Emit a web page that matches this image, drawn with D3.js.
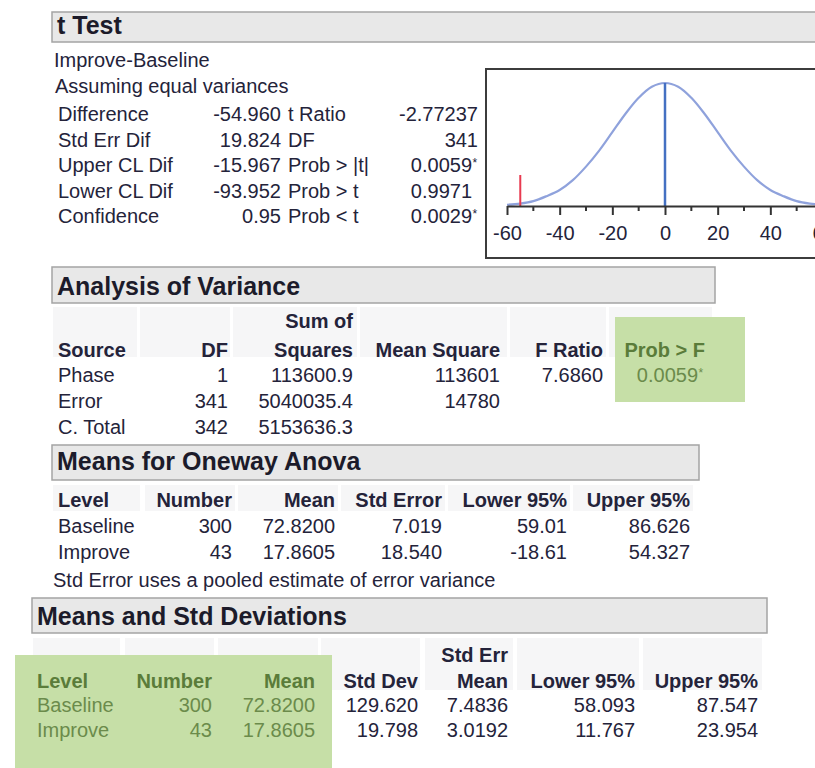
<!DOCTYPE html>
<html>
<head>
<meta charset="utf-8">
<script src="https://d3js.org/d3.v7.min.js"></script>
<style>
  body { margin: 0; background: #fff; }
  svg text { font-family: "Liberation Sans", Arial, sans-serif; }
</style>
</head>
<body>
<svg id="viz" width="815" height="768"></svg>

<script>
// ---------- data ----------
var tTestTitle = "t Test";
var tTestComparison = "Improve-Baseline";
var tTestNote = "Assuming equal variances";
var tTestLabels = ["Difference", "Std Err Dif", "Upper CL Dif", "Lower CL Dif", "Confidence"];
var tTestValues = ["-54.960", "19.824", "-15.967", "-93.952", "0.95"];
var tStatLabels = ["t Ratio", "DF", "Prob > |t|", "Prob > t", "Prob < t"];
var tStatValues = ["-2.77237", "341", "0.0059*", "0.9971", "0.0029*"];

// little t-distribution plot
var tDiff = -54.960;
var axisTicks = [-60, -40, -20, 0, 20, 40, 60];
var minorTicks = [-50, -30, -10, 10, 30, 50];
var curveX      = [-60, -55, -50, -45, -40, -35, -30, -25, -20, -15, -10, -5, 0, 5, 10, 15, 20, 25, 30, 35, 40, 45, 50, 55, 60];
var curveHeight = [0.01, 0.02, 0.04, 0.08, 0.13, 0.21, 0.32, 0.45, 0.60, 0.75, 0.88, 0.97, 1.00, 0.97, 0.88, 0.75, 0.60, 0.45, 0.32, 0.21, 0.13, 0.08, 0.04, 0.02, 0.01];

var anovaTitle = "Analysis of Variance";
var anovaHeaderTop = ["", "", "Sum of", "", "", ""];
var anovaHeader = ["Source", "DF", "Squares", "Mean Square", "F Ratio", "Prob > F"];
var anovaRows = [
  ["Phase", "1", "113600.9", "113601", "7.6860", "0.0059*"],
  ["Error", "341", "5040035.4", "14780", "", ""],
  ["C. Total", "342", "5153636.3", "", "", ""]
];

var onewayTitle = "Means for Oneway Anova";
var onewayHeader = ["Level", "Number", "Mean", "Std Error", "Lower 95%", "Upper 95%"];
var onewayRows = [
  ["Baseline", "300", "72.8200", "7.019", "59.01", "86.626"],
  ["Improve", "43", "17.8605", "18.540", "-18.61", "54.327"]
];
var onewayNote = "Std Error uses a pooled estimate of error variance";

var sdTitle = "Means and Std Deviations";
var sdHeaderTop = ["", "", "", "", "Std Err", "", ""];
var sdHeader = ["Level", "Number", "Mean", "Std Dev", "Mean", "Lower 95%", "Upper 95%"];
var sdRows = [
  ["Baseline", "300", "72.8200", "129.620", "7.4836", "58.093", "87.547"],
  ["Improve", "43", "17.8605", "19.798", "3.0192", "11.767", "23.954"]
];

// ---------- drawing ----------
var svg = d3.select("#viz");
var ink = "#24233a";
var greenHead = "#5a7c3a";
var greenText = "#6b8b4b";
var fs = 20;

svg.append("rect").attr("width", 815).attr("height", 768).attr("fill", "#fff");

function titleBar(x, y, w, h, title, baseline) {
  svg.append("rect")
    .attr("x", x).attr("y", y).attr("width", w).attr("height", h)
    .attr("fill", "#e8e8e8").attr("stroke", "#a4a4a4").attr("stroke-width", 1.5);
  svg.append("text")
    .attr("x", x + 5).attr("y", baseline)
    .attr("font-size", 25).attr("font-weight", "bold").attr("fill", "#1c1b2a")
    .text(title);
}

// right aligned number, star drawn small and raised after the digits
function num(g, str, x, y, color, bold) {
  if (!str) return;
  var star = str.charAt(str.length - 1) === "*";
  g.append("text")
    .attr("x", x).attr("y", y).attr("text-anchor", "end")
    .attr("font-size", fs).attr("fill", color)
    .attr("font-weight", bold ? "bold" : "normal")
    .text(star ? str.slice(0, -1) : str);
  if (star) {
    g.append("text")
      .attr("x", x + 0.5).attr("y", y - 5)
      .attr("font-size", 12).attr("fill", color)
      .text("*");
  }
}

function table(spec) {
  var g = svg.append("g");
  g.selectAll("rect.hc").data(spec.cells).enter().append("rect")
    .attr("class", "hc")
    .attr("x", function(d) { return d[0]; })
    .attr("y", spec.cellY[0])
    .attr("width", function(d) { return d[1] - d[0]; })
    .attr("height", spec.cellY[1] - spec.cellY[0])
    .attr("fill", "#f6f6f7");
  (spec.greens || []).forEach(function(b) {
    g.append("rect").attr("x", b[0]).attr("y", b[1]).attr("width", b[2] - b[0]).attr("height", b[3] - b[1])
      .attr("fill", "#c6dfa7");
  });
  var isGreen = function(i) { return (spec.greenCols || []).indexOf(i) >= 0; };
  function put(str, i, y, bold, isHead) {
    if (!str) return;
    var col = isGreen(i) ? (bold ? greenHead : greenText) : ink;
    if (i === 0) {
      g.append("text").attr("x", spec.colX[0]).attr("y", y)
        .attr("font-size", fs).attr("font-weight", bold ? "bold" : "normal")
        .attr("fill", col).text(str);
    } else {
      var x = (isHead && spec.headX) ? spec.headX[i] : spec.colX[i];
      num(g, str, x, y, col, bold);
    }
  }
  if (spec.headTop) spec.headTop.forEach(function(s, i) { put(s, i, spec.headTopY, true, true); });
  spec.head.forEach(function(s, i) { put(s, i, spec.headY, true, true); });
  spec.rows.forEach(function(r, j) {
    r.forEach(function(s, i) { put(s, i, spec.rowY[j], false, false); });
  });
}

// ---- t Test block ----
titleBar(52, 12, 790, 30, tTestTitle, 34);
svg.append("text").attr("x", 54).attr("y", 67).attr("font-size", fs).attr("fill", ink).text(tTestComparison);
svg.append("text").attr("x", 55).attr("y", 93).attr("font-size", fs).attr("fill", ink).text(tTestNote);

var tRowY = d3.range(tTestLabels.length).map(function(i) { return 121 + i * 25.6; });
var tg = svg.append("g");
tg.selectAll("text.lab").data(tTestLabels).enter().append("text")
  .attr("x", 58).attr("y", function(d, i) { return tRowY[i]; })
  .attr("font-size", fs).attr("fill", ink).text(function(d) { return d; });
tTestValues.forEach(function(v, i) { num(tg, v, 281, tRowY[i], ink); });
tg.selectAll("text.slab").data(tStatLabels).enter().append("text")
  .attr("x", 288).attr("y", function(d, i) { return tRowY[i]; })
  .attr("font-size", fs).attr("fill", ink).text(function(d) { return d; });
tStatValues.forEach(function(v, i) {
  var isProb = tStatLabels[i].indexOf("Prob") === 0;
  num(tg, v, isProb ? 472 : 478, tRowY[i], ink);
});

// ---- plot ----
var plot = svg.append("g");
plot.append("rect").attr("x", 486).attr("y", 69).attr("width", 360).attr("height", 189)
  .attr("fill", "#fff").attr("stroke", "#3c3c3c").attr("stroke-width", 2);

var x = d3.scaleLinear().domain([-60, 60]).range([507, 823]);
var y = d3.scaleLinear().domain([0, 1]).range([206, 83]);

var line = d3.line()
  .x(function(d, i) { return x(curveX[i]); })
  .y(function(d) { return y(d); })
  .curve(d3.curveCatmullRom);
plot.append("path").datum(curveHeight)
  .attr("d", line).attr("fill", "none")
  .attr("stroke", "#8fa2dc").attr("stroke-width", 2.2);

plot.append("line")
  .attr("x1", x(0)).attr("x2", x(0)).attr("y1", y(0)).attr("y2", y(1))
  .attr("stroke", "#4470c2").attr("stroke-width", 2.5);
plot.append("line")
  .attr("x1", x(tDiff)).attr("x2", x(tDiff)).attr("y1", y(0)).attr("y2", y(0) - 31)
  .attr("stroke", "#e83a50").attr("stroke-width", 2);

var axis = plot.append("g").attr("transform", "translate(0," + y(0) + ")")
  .call(d3.axisBottom(x).tickValues(axisTicks).tickSize(9).tickSizeOuter(0).tickPadding(11)
    .tickFormat(function(d) { return String(d); }));
axis.select(".domain").attr("stroke", "#333").attr("stroke-width", 2);
axis.selectAll(".tick line").attr("stroke", "#333").attr("stroke-width", 2);
axis.selectAll(".tick text").attr("font-size", fs).attr("fill", ink)
  .attr("font-family", "'Liberation Sans', Arial, sans-serif");
plot.selectAll("line.minor").data(minorTicks).enter().append("line")
  .attr("class", "minor")
  .attr("x1", function(d) { return x(d); }).attr("x2", function(d) { return x(d); })
  .attr("y1", y(0)).attr("y2", y(0) + 5)
  .attr("stroke", "#333").attr("stroke-width", 2);

// ---- Analysis of Variance ----
titleBar(52, 267, 663, 36, anovaTitle, 295);
table({
  cells: [[53, 137], [140, 230], [233, 357], [360, 507], [510, 606], [609, 712]],
  cellY: [307, 357],
  greens: [[615, 317, 745, 402]],
  greenCols: [5],
  colX: [58, 228, 353, 500, 603, 698],
  headX: [58, 228, 353, 500, 603, 705],
  headTop: anovaHeaderTop, headTopY: 328,
  head: anovaHeader, headY: 357,
  rows: anovaRows, rowY: [382, 408, 434]
});

// ---- Means for Oneway Anova ----
titleBar(52, 445, 647, 35, onewayTitle, 470);
table({
  cells: [[53, 140], [145, 235], [238, 338], [341, 445], [448, 570], [573, 693]],
  cellY: [485, 511],
  colX: [58, 232, 335, 442, 567, 690],
  head: onewayHeader, headY: 507,
  rows: onewayRows, rowY: [533, 559]
});
svg.append("text").attr("x", 53).attr("y", 587).attr("font-size", fs).attr("fill", ink).text(onewayNote);

// ---- Means and Std Deviations ----
titleBar(32, 598, 735, 35, sdTitle, 625);
table({
  cells: [[33, 120], [125, 214], [218, 318], [321, 420], [425, 513], [517, 639], [643, 762]],
  cellY: [638, 690],
  greens: [[15, 655, 332, 768]],
  greenCols: [0, 1, 2],
  colX: [37, 212, 315, 418, 508, 635, 758],
  headTop: sdHeaderTop, headTopY: 662,
  head: sdHeader, headY: 688,
  rows: sdRows, rowY: [712, 737]
});
</script>
</body>
</html>
